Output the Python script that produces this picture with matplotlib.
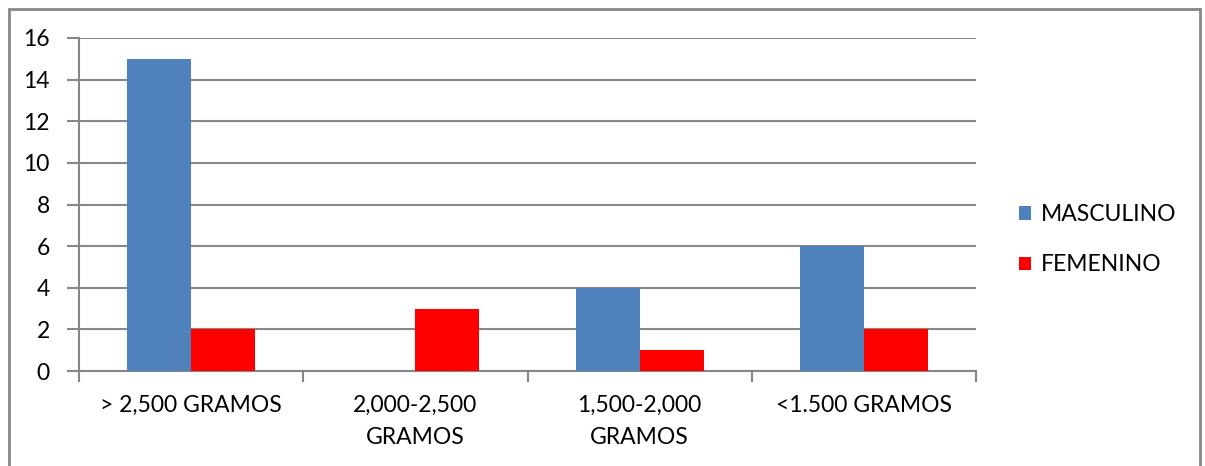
import matplotlib
matplotlib.use("Agg")
import matplotlib.pyplot as plt
from matplotlib.patches import Rectangle
import numpy as np

categories = ["> 2,500 GRAMOS", "2,000-2,500\nGRAMOS", "1,500-2,000\nGRAMOS", "<1.500 GRAMOS"]
masculino = [15, 0, 4, 6]
femenino = [2, 3, 1, 2]
series_names = ["MASCULINO", "FEMENINO"]
colors = ["#4F81BD", "#FF0000"]
yticks = [0, 2, 4, 6, 8, 10, 12, 14, 16]

plt.rcParams['font.family'] = ['Lato', 'DejaVu Sans']
FS = 16.5
W, H = 1205, 466
fig = plt.figure(figsize=(W / 100, H / 100), dpi=100)
ax = fig.add_axes([79 / W, (H - 371) / H, (976 - 79) / W, (371 - 38) / H])

x = np.arange(len(categories))
bw = 1 / 3.5
ax.bar(x - bw / 2, masculino, bw, color=colors[0], label=series_names[0], zorder=3)
ax.bar(x + bw / 2, femenino, bw, color=colors[1], label=series_names[1], zorder=3)

ax.set_xlim(-0.5, len(categories) - 0.5)
ax.set_ylim(0, 16)
ax.set_yticks(yticks)
ax.set_yticklabels([str(v) for v in yticks], fontsize=FS)
ax.set_xticks(x)
ax.set_xticklabels(categories, fontsize=FS, linespacing=1.65)
ax.set_xticks(np.arange(len(categories) + 1) - 0.5, minor=True)
ax.tick_params(axis='x', which='major', length=0, pad=17)
ax.tick_params(axis='x', which='minor', length=8, width=1.5, color="#878787", direction='out')
ax.tick_params(axis='y', length=9, width=1.5, color="#878787", pad=12)

ax.grid(axis='y', color="#878787", linewidth=1.5, zorder=0)
for s in ['top', 'right']:
    ax.spines[s].set_visible(False)
for s in ['left', 'bottom']:
    ax.spines[s].set_color("#878787")
    ax.spines[s].set_linewidth(1.5)
ax.set_axisbelow(True)

leg = fig.legend(loc='upper left', bbox_to_anchor=(1019 / W, (H - 204) / H), frameon=False,
                 fontsize=FS, handlelength=0.52, handleheight=0.52, handletextpad=0.45,
                 labelspacing=1.28, borderpad=0, borderaxespad=0)

fig.patches.append(Rectangle((9 / W, -0.05), (1200 - 9) / W, (H - 9) / H + 0.05,
                             transform=fig.transFigure, fill=False,
                             edgecolor="#868686", linewidth=2))

fig.savefig("out.png", dpi=100)
